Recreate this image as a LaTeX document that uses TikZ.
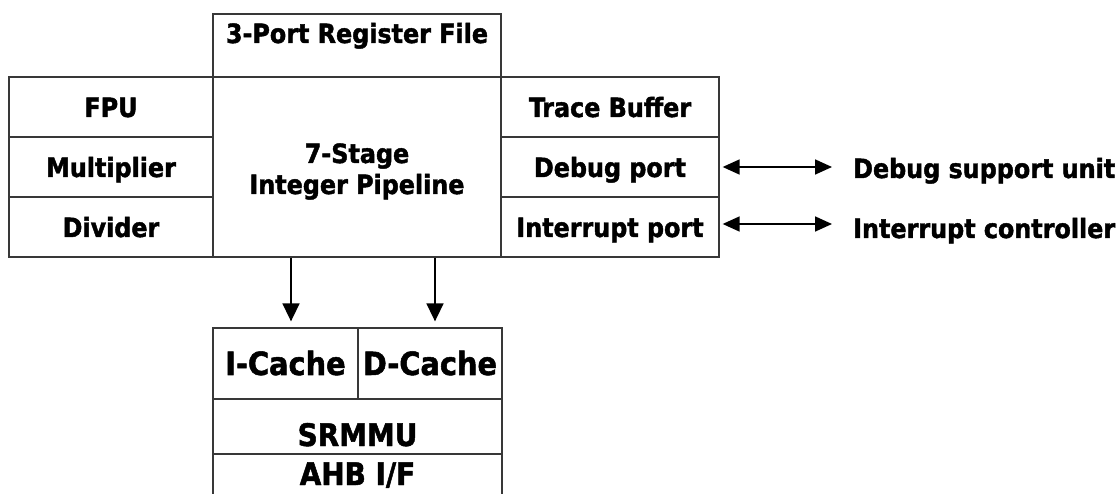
\documentclass[tikz,border=0pt]{standalone}
\usepackage{fontspec}
\usetikzlibrary{arrows.meta}
\newfontfamily\lblfont{DejaVu Sans Condensed Bold}[FakeBold=1.6]
\begin{document}
\begin{tikzpicture}[x=1pt,y=-1pt,
  box/.style={draw=black!78, line width=1.3pt, rectangle, inner sep=0pt},
  cell/.style={box, font=\lblfont\fontsize{26.5}{31}\selectfont, text height=20pt, text depth=0pt},
  txt/.style={font=\lblfont\fontsize{26.5}{31}\selectfont, inner sep=0pt},
  bigtxt/.style={font=\lblfont\fontsize{31}{36}\selectfont, inner sep=0pt},
  arr/.style={line width=1.7pt, -{Triangle[length=18pt,width=17pt]}},
  dbl/.style={line width=1.7pt, {Triangle[length=17pt,width=15pt]}-{Triangle[length=17pt,width=15pt]}}]
\useasboundingbox (0,0) rectangle (1117,494);

% register file and integer pipeline
\node[box, minimum width=288pt, minimum height=63pt] (regf) at (357,45.5) {};
\node[txt, anchor=base] (regft) at (357,43) {3-Port Register File};
\node[box, minimum width=288pt, minimum height=180pt] (pipe) at (357,167) {};
\node[txt, anchor=base] (pipet1) at (357,163) {7-Stage};
\node[txt, anchor=base] (pipet2) at (357,194) {Integer Pipeline};

% left-hand units
\node[cell, minimum width=204pt, minimum height=60pt] (fpu) at (111,107) {FPU};
\node[cell, minimum width=204pt, minimum height=60pt] (mul) at (111,167) {Multiplier};
\node[cell, minimum width=204pt, minimum height=60pt] (div) at (111,227) {Divider};

% right-hand units
\node[cell, minimum width=218pt, minimum height=60pt] (trace) at (610,107) {Trace Buffer};
\node[cell, minimum width=218pt, minimum height=60pt] (dbg) at (610,167) {Debug port};
\node[cell, minimum width=218pt, minimum height=60pt] (irq) at (610,227) {Interrupt port};

% external units
\node[txt, anchor=base west] (dsu) at (853,178) {Debug support unit};
\node[txt, anchor=base west] (ictl) at (853,238) {Interrupt controller};

% caches, MMU and bus interface
\node[box, bigtxt, font=\lblfont\fontsize{32}{36}\selectfont, text height=23pt, text depth=0pt,
      minimum width=145pt, minimum height=71pt] (icache) at (285.5,363.5) {I-Cache};
\node[box, bigtxt, font=\lblfont\fontsize{32}{36}\selectfont, text height=23pt, text depth=0pt,
      minimum width=144pt, minimum height=71pt] (dcache) at (430,363.5) {D-Cache};
\node[box, minimum width=289pt, minimum height=55pt] (srmmu) at (357.5,426.5) {};
\node[bigtxt, anchor=base] (srmmut) at (357.5,446) {SRMMU};
\node[box, minimum width=289pt, minimum height=60pt] (ahb) at (357.5,484) {};
\node[bigtxt, anchor=base] (ahbt) at (357.5,485) {AHB I/F};

% connections
\coordinate (iin) at ([xshift=5.5pt,yshift=6pt]icache.north);
\coordinate (din) at ([xshift=5pt,yshift=6pt]dcache.north);
\draw[arr] (iin |- pipe.south) -- (iin);
\draw[arr] (din |- pipe.south) -- (din);

\coordinate (dbgout) at ([xshift=3pt]dbg.east);
\coordinate (dsuin) at ([xshift=-21pt]dsu.west);
\draw[dbl] (dbgout) -- (dbgout -| dsuin);
\coordinate (irqout) at ([xshift=3pt,yshift=3pt]irq.east);
\coordinate (ictlin) at ([xshift=-21pt]ictl.west);
\draw[dbl] (irqout) -- (irqout -| ictlin);
\end{tikzpicture}
\end{document}
